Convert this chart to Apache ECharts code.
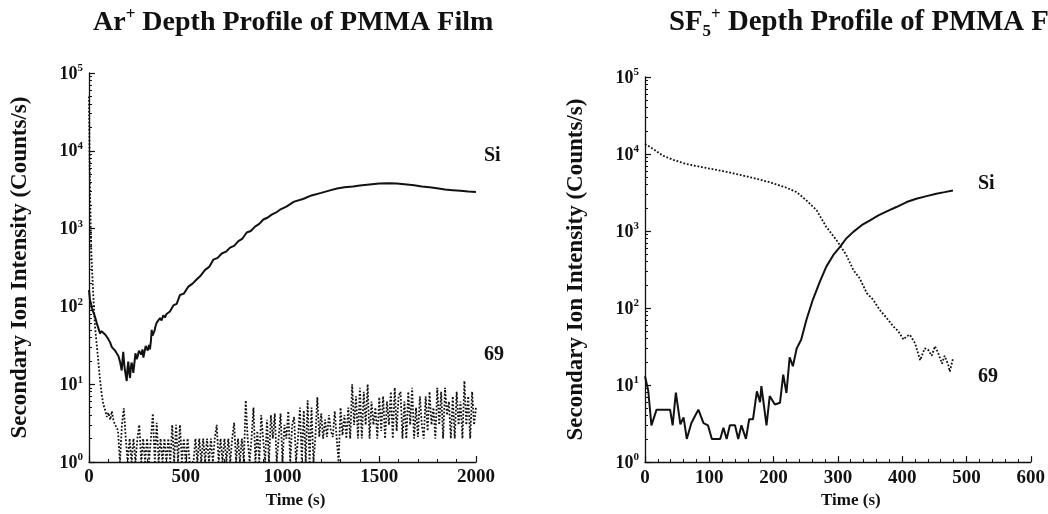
<!DOCTYPE html>
<html>
<head>
<meta charset="utf-8">
<script src="https://cdn.jsdelivr.net/npm/echarts@6.0.0/dist/echarts.min.js"></script>
<style>
  html, body { margin: 0; padding: 0; background: #fff; }
  #chart { width: 1048px; height: 514px; }
</style>
</head>
<body>
<div id="chart"></div>
<script>
// Ar+ sputtering: Si signal (solid)
const arSiTime = [0,5,10,15,22,30,40,48,57,65,74,82,91,100,110,118,126,135,143,152,
  160,165,169,173,177,182,186,190,195,199,203,208,212,216,220,225,229,234,240,246,
  252,258,264,270,276,281,287,293,298,304,310,315,320,324,328,332,338,344,350,358,
  367,375,384,392,401,418,436,453,470,490,512,535,556,578,600,621,643,665,686,708,
  729,750,772,793,815,836,858,880,901,922,944,965,987,1020,1060,1106,1150,1200,1250,1282,
  1320,1364,1400,1450,1500,1550,1590,1630,1680,1720,1760,1798,1840,1880,1920,1960,2000];
const arSiVal = [162,121,110,94,94,75,61,58,45,48,50,44,41,38,34,30,30,27,25,23,
  19.5,17,15,20,26,18,15,13,11,16,19.5,14,12,16,19,17,14,18,25,21,
  23,27,26,24,28,22,26,31,30,27,32,28,36,50,42,41,48,56,62,60,
  71,66,77,72,80,86,103,108,140,146,178,196,222,250,295,322,400,420,478,505,
  570,600,690,745,890,930,1060,1150,1310,1380,1510,1600,1750,1920,2220,2400,2670,2880,3120,3280,
  3400,3470,3580,3700,3800,3820,3790,3720,3600,3480,3400,3300,3180,3120,3060,3000,2950];

// Ar+ sputtering: m/z 69 signal (dotted)
const ar69Time = [0,3,6,9,12,15,20,25,31,40,48,56,65,74,83,92,100,110,118,126,134,143,
  150,160,170,180,190,200,210,220,230,240,250,260,270,280,290,300,310,320,330,340,
  350,360,370,380,390,400,410,420,430,440,450,460,470,480,490,500,510,520,530,540,
  550,560,570,580,590,600,610,620,630,640,650,660,670,680,690,700,710,720,730,740,
  750,760,770,780,790,800,810,820,830,840,850,860,870,880,890,900,910,920,930,940,
  950,960,970,980,990,1000,1010,1020,1030,1040,1050,1060,1070,1080,1090,1100,1110,1120,1130,1140,
  1150,1160,1170,1180,1190,1200,1210,1220,1230,1240,1250,1260,1270,1280,1290,1300,1310,1320,1330,1340,
  1350,1360,1370,1380,1390,1400,1410,1420,1430,1440,1450,1460,1470,1480,1490,1500,1510,1520,1530,1540,
  1550,1560,1570,1580,1590,1600,1610,1620,1630,1640,1650,1660,1670,1680,1690,1700,1710,1720,1730,1740,
  1750,1760,1770,1780,1790,1800,1810,1820,1830,1840,1850,1860,1870,1880,1890,1900,1910,1920,1930,1940,
  1950,1960,1970,1980,1990,2000];
const ar69Val = [50000,8000,2500,1000,500,330,180,100,55,32,20,12,7.6,5.5,4.7,3.8,4.3,3.5,4.5,3.5,3,2.8,
  2.5,1,3,4.9,2,1,2,1,2,1,2,3,1,2,1,2,1,2,4.2,1,
  3.2,1,2,1,2,1,2,1,3,1,3,1,3,1,2,1,2,1,1,1,
  2,1,2,1,2,1,2,1,2,1,2,3,1,2,1,2,1,2,1,2,
  3.2,1,2,1,2,1,6.2,2,1,2,5,1,2.5,1,4,2,1,3.5,1,4,
  2,4.2,1,2,4.2,1,3,2,4.5,1,3,3.8,1,2,5,1,4.6,1,6.2,1,
  5,1,2.1,6.8,2.1,4.2,2,3.5,2.1,4,2.5,2.1,4.5,2,1,5,2.2,4,2,5,
  2,10,3,7,2,9,2,8,3,10,2,6,3,5,2,6.8,2.5,7,2,6,
  3,8,2,9,2.5,7,8,2,6,2,8,3,9,2,5,2.1,7,3,2,7,
  2.5,8,3,5,2,9,3,8,2,9,4,6,2,7,2,8,3,6,2,11,
  3,7,2,8,3,5];

// SF5+ sputtering: Si signal (solid)
const sfSiTime = [0,5,10,18,25,32,39,43,48,55,60,65,72,78,83,91,98,104,111,117,
  122,127,132,140,145,150,157,162,168,174,179,181,185,189,194,202,210,215,220,225,
  230,236,243,251,261,272,282,293,303,313,324,337,350,363,376,391,407,422,438,453,466,479];
const sfSiVal = [13,8.5,3,4.8,4.8,4.8,4.8,3,8,3.1,3.8,2,3.2,4,4.8,3.2,3,2,2,2,
  2.8,2,3,3,2,3,2,3.6,3.6,8.3,6,9.7,5.4,3,7.2,5.6,5.9,13.7,7.9,23,
  17.6,30,39,70,128,220,345,490,620,800,975,1190,1380,1600,1800,2050,2380,2630,2840,3050,3200,3370];

// SF5+ sputtering: m/z 69 signal (dotted)
const sf69Time = [0,13,28,44,65,91,117,142,168,194,220,236,251,267,282,298,313,324,334,345,
  355,365,376,386,394,402,407,412,420,428,435,440,446,451,456,462,466,472,474,479];
const sf69Val = [13500,11600,9500,8400,7400,6700,6100,5500,4900,4300,3650,3200,2500,1860,1130,760,490,312,243,156,
  128,95,74,58,50,39,43,45,35,21,30,29,24,32,26,19,24,18,15,22];

const FONT = '"Liberation Serif", "Times New Roman", serif';
const INK = '#111';

const pairs = (ts, vs) => ts.map((t, i) => [t, vs[i]]);

const chart = echarts.init(document.getElementById('chart'), null, { renderer: 'canvas' });

const xAxisBase = (grid, max, interval) => ({
  gridIndex: grid,
  type: 'value',
  min: 0,
  max: max,
  interval: interval,
  axisLine: { lineStyle: { color: INK, width: 1.3 } },
  axisTick: { inside: true, length: 6, lineStyle: { color: INK, width: 1.2 } },
  minorTick: { show: true, splitNumber: 5, length: 3, lineStyle: { color: INK, width: 1 } },
  splitLine: { show: false },
  axisLabel: {
    color: INK, fontFamily: FONT, fontWeight: 'bold', fontSize: 19, margin: 6,
    formatter: v => String(v)
  },
  name: 'Time (s)',
  nameLocation: 'middle',
  nameGap: 28,
  nameTextStyle: { color: INK, fontFamily: FONT, fontWeight: 'bold', fontSize: 17, padding: [0, 0, 0, 26] }
});

const yAxisBase = grid => ({
  gridIndex: grid,
  type: 'log',
  logBase: 10,
  min: 1,
  max: 100000,
  axisLine: { show: true, lineStyle: { color: INK, width: 1.3 } },
  axisTick: { show: true, inside: true, length: 6, lineStyle: { color: INK, width: 1.2 } },
  minorTick: { show: true, splitNumber: 9, length: 3, lineStyle: { color: INK, width: 1 } },
  splitLine: { show: false },
  axisLabel: {
    margin: 6,
    formatter: v => '{b|10}{e|' + Math.round(Math.log10(v)) + '}',
    rich: {
      b: { color: INK, fontFamily: FONT, fontWeight: 'bold', fontSize: 18, lineHeight: 20, verticalAlign: 'bottom' },
      e: { color: INK, fontFamily: FONT, fontWeight: 'bold', fontSize: 11, lineHeight: 11, verticalAlign: 'top' }
    }
  },
  name: 'Secondary Ion Intensity (Counts/s)',
  nameLocation: 'middle',
  nameGap: 57,
  nameTextStyle: { color: INK, fontFamily: FONT, fontWeight: 'bold', fontSize: 23 }
});

const solid = (xi, data) => ({
  type: 'line', xAxisIndex: xi, yAxisIndex: xi, data: data,
  symbol: 'none', animation: false,
  lineStyle: { color: INK, width: 2 }
});
const dotted = (xi, data) => ({
  type: 'line', xAxisIndex: xi, yAxisIndex: xi, data: data,
  symbol: 'none', animation: false,
  lineStyle: { color: '#111', width: 1.8, type: 'dotted' }
});

const titleRich = size => ({
  t: { fontFamily: FONT, fontWeight: 'bold', fontSize: size, color: INK, lineHeight: 34, verticalAlign: 'middle' },
  sup: { fontFamily: FONT, fontWeight: 'bold', fontSize: 17, color: INK, lineHeight: 17, verticalAlign: 'top' },
  sub: { fontFamily: FONT, fontWeight: 'bold', fontSize: 17, color: INK, lineHeight: 17, verticalAlign: 'bottom' }
});

const tag = (text, x, y) => ({
  type: 'text', left: x, top: y,
  style: { text: text, font: 'bold 20px ' + FONT, fill: INK }
});

chart.setOption({
  backgroundColor: '#fff',
  animation: false,
  title: [
    { left: 88, top: 1, text: '{t|Ar}{sup|+}{t| Depth Profile of PMMA Film}', textStyle: { rich: titleRich(28) } },
    { left: 664, top: 1, text: '{t|SF}{sub|5}{sup|+}{t| Depth Profile of PMMA Film}', textStyle: { rich: titleRich(28.8) } }
  ],
  grid: [
    { left: 89, top: 73, width: 387, height: 389 },
    { left: 645, top: 77, width: 386, height: 386 }
  ],
  xAxis: [xAxisBase(0, 2000, 500), xAxisBase(1, 600, 100)],
  yAxis: [yAxisBase(0), yAxisBase(1)],
  series: [
    dotted(0, pairs(ar69Time, ar69Val)),
    solid(0, pairs(arSiTime, arSiVal)),
    dotted(1, pairs(sf69Time, sf69Val)),
    solid(1, pairs(sfSiTime, sfSiVal))
  ],
  graphic: [
    tag('Si', 484, 146),
    tag('69', 484, 345),
    tag('Si', 978, 174),
    tag('69', 978, 367)
  ]
});
</script>
</body>
</html>
